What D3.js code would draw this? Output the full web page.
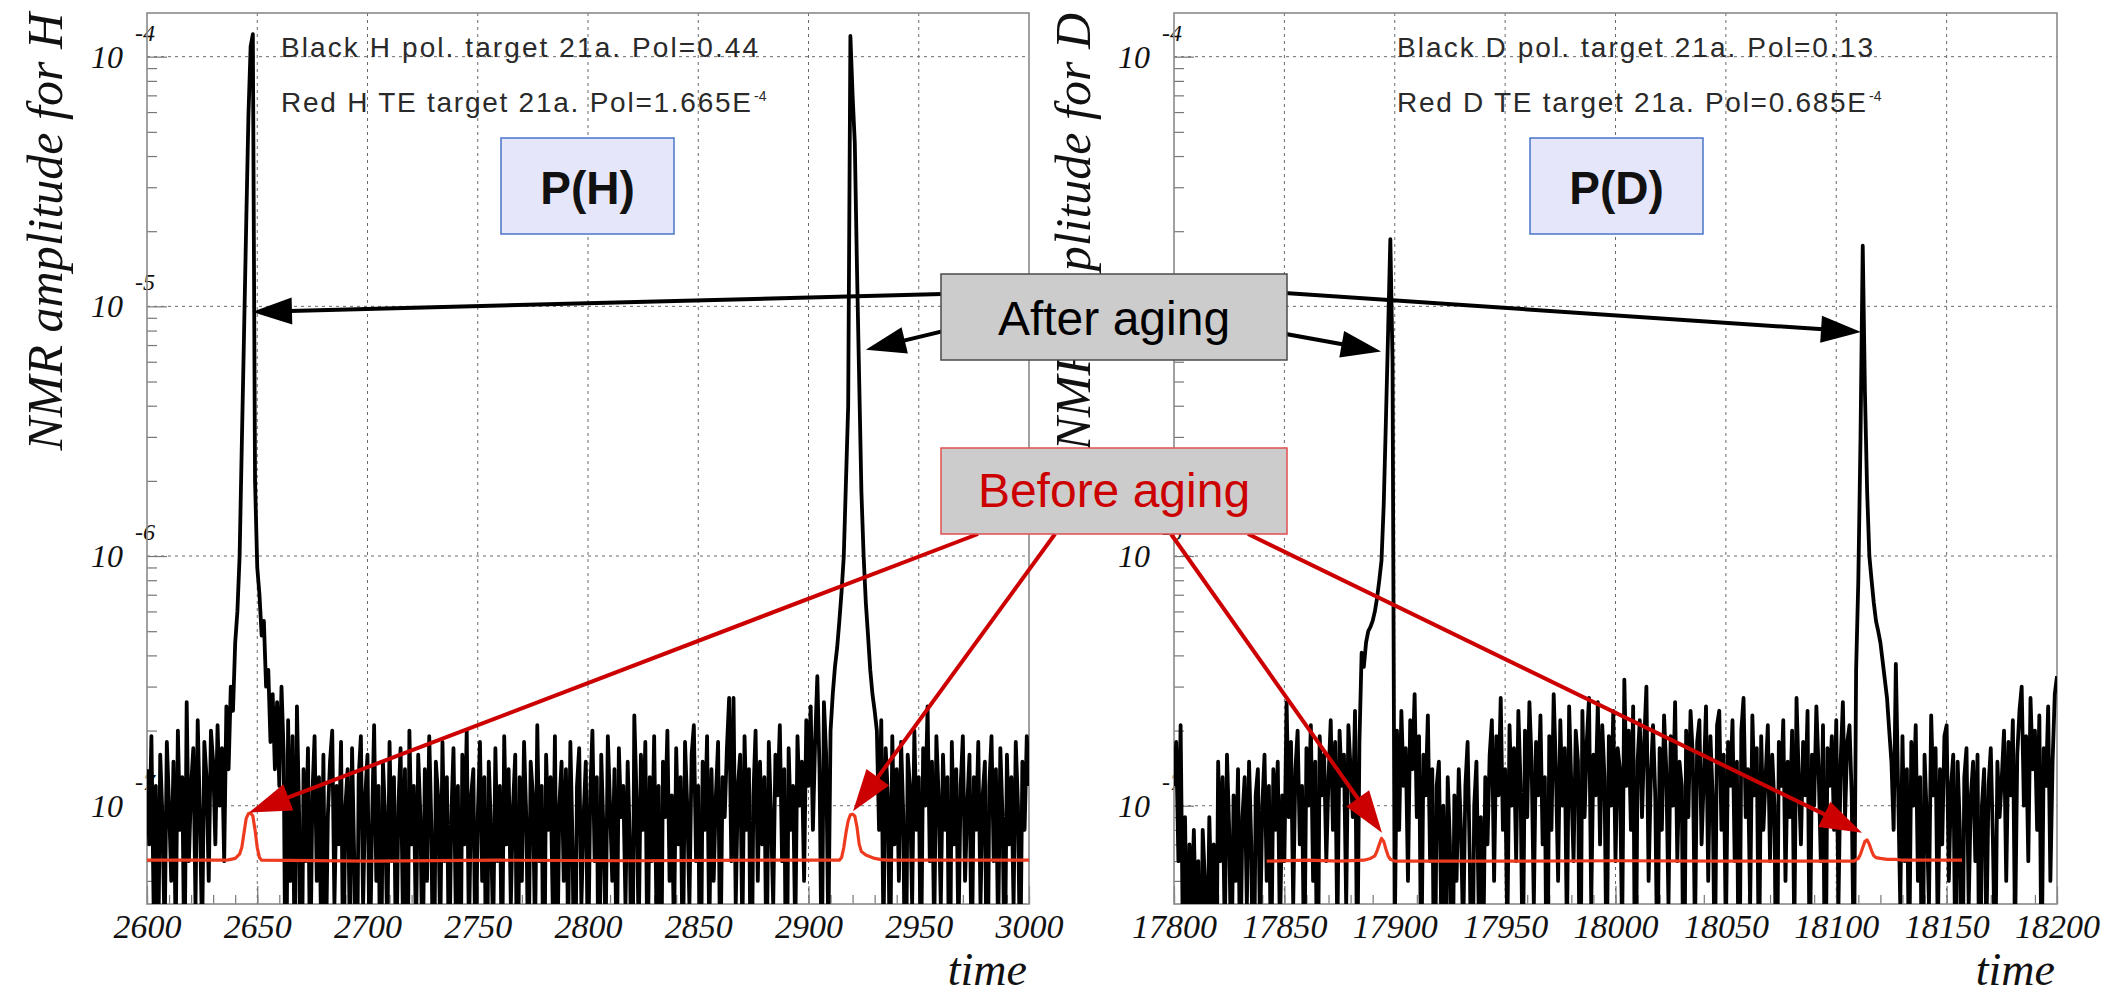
<!DOCTYPE html>
<html>
<head>
<meta charset="utf-8">
<script src="https://cdn.jsdelivr.net/npm/d3@7"></script>
<style>
  body { margin: 0; background: #fff; }
  svg { display: block; }
</style>
</head>
<body>
<svg id="chart" width="2106" height="997"></svg>
<script>
// NMR amplitudes are stored in units of 1e-8; one sample per time unit.
const AMP_UNIT = 1e-8;
const SAMPLE_STEP = 1;

// ---- Hydrogen (P(H)) panel ----
const hStart = 2600;
const hBlack = [
  14, 7, 19, 4, 12, 2, 16, 9, 3, 18,          // 2600
  10, 5, 15, 3, 20, 8, 13, 2, 26, 6,          // 2610
  12, 17, 4, 22, 9, 3, 18, 13, 5, 20,         // 2620
  15, 7, 21, 10, 17, 6, 25, 14, 30, 24,       // 2630
  45, 60, 100, 280, 770, 2150, 5800, 11000, 12300, 200, // 2640
  90, 70, 48, 55, 30, 35, 18, 28, 14, 26,     // 2650
  12, 30, 16, 1, 22, 5, 19, 2, 25, 9,         // 2660
  1, 14, 6, 17, 2, 11, 19, 5, 13, 3,          // 2670
  16, 2, 9, 15, 20, 4, 12, 7, 18, 2,          // 2680
  10, 14, 3, 17, 6, 1, 13, 19, 4, 11,         // 2690
  16, 2, 8, 21, 5, 12, 1, 15, 9, 3,           // 2700
  18, 6, 13, 2, 10, 17, 4, 14, 1, 20,         // 2710
  7, 12, 3, 16, 9, 2, 14, 5, 19, 8,           // 2720
  1, 15, 11, 3, 18, 6, 13, 2, 9, 17,          // 2730
  4, 12, 1, 16, 7, 20, 3, 11, 14, 2,          // 2740
  9, 18, 5, 13, 1, 15, 8, 3, 17, 6,           // 2750
  12, 2, 19, 7, 14, 4, 10, 16, 1, 13,         // 2760
  5, 18, 9, 2, 15, 11, 3, 21, 6, 12,          // 2770
  1, 16, 8, 13, 4, 19, 2, 10, 15, 5,          // 2780
  14, 3, 18, 7, 1, 12, 17, 4, 9, 15,          // 2790
  2, 11, 20, 6, 13, 1, 16, 8, 3, 19,          // 2800
  10, 5, 14, 2, 17, 9, 12, 4, 15, 7,          // 2810
  1, 23, 11, 3, 16, 8, 18, 2, 13, 6,          // 2820
  19, 4, 12, 1, 15, 9, 20, 5, 11, 3,          // 2830
  17, 7, 13, 2, 18, 10, 4, 16, 21, 6,         // 2840
  12, 1, 15, 8, 19, 3, 14, 5, 11, 18,         // 2850
  2, 13, 9, 17, 27, 6, 27, 4, 12, 16,         // 2860
  3, 19, 8, 14, 1, 11, 20, 5, 15, 7,          // 2870
  13, 2, 18, 9, 4, 16, 11, 21, 6, 14,         // 2880
  1, 17, 8, 12, 3, 19, 10, 15, 5, 22,         // 2890
  12, 25, 8, 18, 33, 14, 2, 26, 16, 3,        // 2900
  20, 28, 36, 43, 55, 72, 100, 200, 400, 12100, // 2910
  7000, 4500, 1400, 500, 180, 100, 65, 48, 35, 28, // 2920
  24, 20, 8, 22, 3, 17, 11, 2, 19, 7,         // 2930
  14, 5, 18, 9, 1, 16, 12, 4, 20, 8,          // 2940
  13, 2, 17, 10, 25, 6, 15, 3, 19, 11,        // 2950
  4, 16, 8, 13, 1, 18, 7, 14, 3, 12,          // 2960
  19, 5, 10, 16, 2, 13, 8, 18, 4, 11,         // 2970
  15, 1, 12, 19, 6, 14, 3, 17, 9, 2,          // 2980
  16, 7, 13, 4, 18, 10, 2, 15, 8, 19,         // 2990
  12                                          // 3000
];
const hRedTime = [2600, 2636, 2638, 2640, 2642, 2643, 2644, 2645, 2646, 2647, 2648, 2649, 2650, 2651, 2652,
                  2700, 2760, 2820, 2880, 2914, 2915, 2916, 2917, 2918, 2919, 2920, 2921, 2922, 2923, 2924,
                  2926, 2928, 2930, 2933, 2936, 3000];
const hRedAmp  = [6.05, 6.05, 6.1, 6.15, 6.4, 6.8, 7.8, 8.9, 9.3, 9.35, 9.1, 8.0, 6.8, 6.2, 6.05,
                  6.0, 6.05, 6.02, 6.05, 6.05, 6.2, 6.8, 7.8, 8.7, 9.2, 9.25, 9.1, 8.2, 7.0, 6.55,
                  6.35, 6.25, 6.15, 6.08, 6.05, 6.05];
const hTicks = [2600, 2650, 2700, 2750, 2800, 2850, 2900, 2950, 3000];
const hNotes = ["Black H pol. target 21a. Pol=0.44", "Red H TE target 21a. Pol=1.665E"];

// ---- Deuteron (P(D)) panel ----
const dStart = 17800;
const dBlack = [
  12, 18, 6, 21, 3, 9, 2, 7, 4, 8,            // 17800
  3, 6, 1, 8, 5, 2, 9, 4, 7, 1,               // 17810
  15, 6, 13, 3, 16, 8, 2, 11, 5, 14,          // 17820
  2, 9, 13, 4, 15, 7, 1, 11, 14, 3,           // 17830
  10, 16, 5, 12, 2, 14, 8, 15, 3, 11,         // 17840
  6, 26, 9, 18, 4, 14, 20, 7, 12, 2,          // 17850
  17, 10, 21, 5, 15, 1, 19, 11, 16, 6,        // 17860
  13, 22, 8, 18, 3, 20, 12, 16, 4, 21,        // 17870
  14, 9, 24, 2, 18, 41, 36, 45, 50, 52,       // 17880
  55, 60, 68, 80, 96, 160, 350, 800, 1860, 600, // 17890
  3, 20, 8, 24, 12, 17, 5, 22, 14, 28,        // 17900
  9, 19, 2, 16, 11, 23, 6, 14, 1, 12,         // 17910
  15, 4, 10, 2, 13, 7, 1, 11, 5, 14,          // 17920
  8, 3, 12, 18, 6, 1, 10, 15, 4, 9,           // 17930
  2, 13, 7, 16, 22, 5, 19, 11, 27, 8,         // 17940
  14, 3, 21, 10, 17, 6, 24, 12, 2, 20,        // 17950
  9, 26, 15, 4, 18, 11, 23, 7, 13, 1,         // 17960
  19, 8, 28, 14, 5, 22, 10, 17, 3, 25,        // 17970
  12, 6, 20, 15, 1, 24, 9, 18, 27, 4,         // 17980
  16, 11, 26, 7, 21, 13, 2, 19, 10, 24,       // 17990
  6, 17, 14, 3, 32, 12, 20, 8, 25, 1,         // 18000
  15, 22, 9, 18, 30, 5, 13, 21, 11, 2,        // 18010
  17, 8, 23, 14, 4, 19, 10, 26, 6, 15,        // 18020
  12, 1, 20, 9, 24, 16, 3, 18, 22, 7,         // 18030
  13, 25, 5, 19, 11, 2, 21, 24, 8, 16,        // 18040
  3, 18, 12, 22, 6, 15, 1, 20, 27, 9,         // 18050
  14, 4, 23, 11, 17, 2, 19, 8, 13, 21,        // 18060
  6, 16, 10, 1, 18, 12, 22, 5, 15, 9,         // 18070
  20, 3, 27, 13, 7, 18, 11, 24, 2, 16,        // 18080
  10, 25, 14, 6, 21, 1, 17, 12, 19, 8,        // 18090
  22, 4, 15, 26, 9, 18, 21, 11, 2, 35,        // 18100
  80, 300, 1750, 450, 180, 100, 80, 65, 55, 50, // 18110
  45, 38, 32, 27, 20, 15, 8, 37, 12, 4,       // 18120
  19, 6, 14, 2, 18, 10, 21, 5, 13, 1,         // 18130
  16, 9, 4, 23, 11, 17, 3, 14, 7, 19,         // 18140
  21, 5, 12, 16, 2, 15, 8, 1, 13, 17,         // 18150
  4, 11, 15, 6, 16, 1, 10, 14, 3, 12,         // 18160
  17, 7, 2, 15, 9, 13, 20, 5, 18, 11,         // 18170
  22, 3, 16, 24, 30, 10, 19, 6, 27, 14,       // 18180
  20, 8, 23, 2, 17, 12, 25, 5, 15, 28,        // 18190
  33                                          // 18200
];
const dRedTime = [17842, 17860, 17875, 17886, 17889, 17891, 17892, 17893, 17894, 17895, 17896, 17897, 17898, 17900,
                  17950, 18000, 18050, 18108, 18110, 18111, 18112, 18113, 18114, 18115, 18116, 18117, 18118,
                  18120, 18123, 18127, 18130, 18157];
const dRedAmp  = [6.0, 6.05, 6.0, 6.05, 6.15, 6.3, 6.6, 7.0, 7.4, 7.2, 6.7, 6.3, 6.1, 6.0,
                  6.0, 6.02, 6.0, 6.0, 6.15, 6.4, 6.8, 7.2, 7.3, 7.0, 6.6, 6.3, 6.2,
                  6.15, 6.1, 6.1, 6.05, 6.05];
const dTicks = [17800, 17850, 17900, 17950, 18000, 18050, 18100, 18150, 18200];
const dNotes = ["Black D pol. target 21a. Pol=0.13", "Red D TE target 21a. Pol=0.685E"];

const yDecades = [-7, -6, -5, -4];
const noteExponent = "-4";

// ---------------------------------------------------------------
const svg = d3.select("#chart");
const FRAME_TOP = 13, FRAME_BOTTOM = 904;
const yScale = d3.scaleLog().domain([4.04e-8, 1.496e-4]).range([FRAME_BOTTOM, FRAME_TOP]);

const SERIF = "'Liberation Serif', 'Times New Roman', serif";
const SANS = "'Liberation Sans', Arial, sans-serif";

const panels = [
  { id: "H", x0: 147, x1: 1029, start: hStart, black: hBlack, redT: hRedTime, redA: hRedAmp,
    ticks: hTicks, title: "NMR amplitude for H", titleX: 62,
    notes: hNotes, noteX: 281, noteLen: [477, 470], box: "P(H)", boxX: 501 },
  { id: "D", x0: 1174, x1: 2057, start: dStart, black: dBlack, redT: dRedTime, redA: dRedAmp,
    ticks: dTicks, title: "NMR amplitude for D", titleX: 1090,
    notes: dNotes, noteX: 1397, noteLen: [476, 469], box: "P(D)", boxX: 1530 }
];

const defs = svg.append("defs");
const layerBase = svg.append("g");
const layerData = svg.append("g");
const layerNotes = svg.append("g");

panels.forEach(p => {
  const tMin = p.ticks[0], tMax = p.ticks[p.ticks.length - 1];
  p.x = d3.scaleLinear().domain([tMin, tMax]).range([p.x0, p.x1]);

  defs.append("clipPath").attr("id", "clip" + p.id)
    .append("rect").attr("x", p.x0).attr("y", FRAME_TOP)
    .attr("width", p.x1 - p.x0).attr("height", FRAME_BOTTOM - FRAME_TOP);

  const g = layerBase.append("g");

  // dashed grid
  const grid = g.append("g").attr("stroke", "#6a6a6a").attr("stroke-width", 1)
    .attr("stroke-dasharray", "3,4");
  grid.selectAll(".gx").data(p.ticks.slice(1, -1)).join("line")
    .attr("x1", d => p.x(d)).attr("x2", d => p.x(d))
    .attr("y1", FRAME_TOP).attr("y2", FRAME_BOTTOM);
  grid.selectAll(".gy").data(yDecades).join("line")
    .attr("x1", p.x0).attr("x2", p.x1)
    .attr("y1", d => yScale(Math.pow(10, d))).attr("y2", d => yScale(Math.pow(10, d)));

  // y axis: minor and major ticks inside the frame
  const minor = [];
  yDecades.concat([-8]).forEach(e => {
    for (let k = 2; k <= 9; k++) {
      const v = k * Math.pow(10, e);
      if (v > yScale.domain()[0] && v < yScale.domain()[1]) minor.push(v);
    }
  });
  const styleAxis = sel => {
    sel.select(".domain").remove();
    sel.selectAll("line").attr("stroke", "#777").attr("stroke-width", 1.2);
  };
  g.append("g").attr("transform", `translate(${p.x0},0)`)
    .call(d3.axisRight(yScale).tickValues(minor).tickSize(10).tickFormat(""))
    .call(styleAxis);
  g.append("g").attr("transform", `translate(${p.x0},0)`)
    .call(d3.axisRight(yScale).tickValues(yDecades.map(e => Math.pow(10, e))).tickSize(20).tickFormat(""))
    .call(styleAxis);

  // y tick labels 10^e
  const yl = g.append("g").attr("font-family", SERIF).attr("font-style", "italic").attr("fill", "#111");
  yl.selectAll(".ten").data(yDecades).join("text")
    .attr("x", p.x0 - 24).attr("y", d => yScale(Math.pow(10, d)) + 11)
    .attr("text-anchor", "end").attr("font-size", 32).text("10");
  yl.selectAll(".exp").data(yDecades).join("text")
    .attr("x", p.x0 - 12).attr("y", d => yScale(Math.pow(10, d)) - 16)
    .attr("font-size", 24).text(d => String(d));

  // x axis: minor ticks every 10, major ticks with labels every 50
  const minorX = d3.range(tMin, tMax + 1, 10);
  g.append("g").attr("transform", `translate(0,${FRAME_BOTTOM})`)
    .call(d3.axisBottom(p.x).tickValues(minorX).tickSize(-9).tickFormat(""))
    .call(styleAxis);
  const xa = g.append("g").attr("transform", `translate(0,${FRAME_BOTTOM})`)
    .call(d3.axisBottom(p.x).tickValues(p.ticks).tickSize(-18).tickPadding(10).tickFormat(d3.format("d")))
    .call(styleAxis);
  xa.selectAll("text").attr("font-family", SERIF).attr("font-style", "italic")
    .attr("font-size", 34).attr("fill", "#111");

  // frame
  g.append("rect").attr("x", p.x0).attr("y", FRAME_TOP)
    .attr("width", p.x1 - p.x0).attr("height", FRAME_BOTTOM - FRAME_TOP)
    .attr("fill", "none").attr("stroke", "#8a8a8a").attr("stroke-width", 1.6);

  // axis titles
  g.append("text").attr("x", p.x1 - 2).attr("y", 985).attr("text-anchor", "end")
    .attr("font-family", SERIF).attr("font-style", "italic").attr("font-size", 46)
    .attr("fill", "#111").text("time");
  g.append("text").attr("transform", `translate(${p.titleX},${FRAME_TOP}) rotate(-90)`)
    .attr("text-anchor", "end").attr("font-family", SERIF).attr("font-style", "italic")
    .attr("font-size", 50).attr("fill", "#111").text(p.title);

  // data: polarized (black) and thermal-equilibrium (red) signals
  const dg = layerData.append("g").attr("clip-path", `url(#clip${p.id})`);
  const blackLine = d3.line()
    .x((d, i) => p.x(p.start + i * SAMPLE_STEP))
    .y(d => yScale(d * AMP_UNIT));
  dg.append("path").datum(p.black).attr("d", blackLine)
    .attr("fill", "none").attr("stroke", "#000").attr("stroke-width", 3.8)
    .attr("stroke-linejoin", "round");
  const redLine = d3.line()
    .x(i => p.x(p.redT[i]))
    .y(i => yScale(p.redA[i] * AMP_UNIT));
  dg.append("path").datum(d3.range(p.redT.length)).attr("d", redLine)
    .attr("fill", "none").attr("stroke", "#ee3b1f").attr("stroke-width", 3.2)
    .attr("stroke-linejoin", "round");

  // annotation lines
  const ng = layerNotes.append("g").attr("font-family", SANS).attr("fill", "#2a2a2a");
  ng.append("text").attr("x", p.noteX).attr("y", 57).attr("font-size", 28)
    .attr("textLength", p.noteLen[0]).attr("lengthAdjust", "spacing").text(p.notes[0]);
  ng.append("text").attr("x", p.noteX).attr("y", 112).attr("font-size", 28)
    .attr("textLength", p.noteLen[1]).attr("lengthAdjust", "spacing").text(p.notes[1]);
  ng.append("text").attr("x", p.noteX + p.noteLen[1] + 3).attr("y", 101).attr("font-size", 14)
    .text(noteExponent);

  // label box P(H) / P(D)
  const bw = 173, bh = 96, by = 138;
  ng.append("rect").attr("x", p.boxX).attr("y", by).attr("width", bw).attr("height", bh)
    .attr("fill", "#e6e6fa").attr("stroke", "#4a74c9").attr("stroke-width", 1.5);
  ng.append("text").attr("x", p.boxX + bw / 2).attr("y", by + 66).attr("text-anchor", "middle")
    .attr("font-family", SANS).attr("font-weight", "bold").attr("font-size", 46)
    .attr("fill", "#111").text(p.box);
});

// ---------------------------------------------------------------
// Arrows pointing from the labels to the peaks
const pH = panels[0], pD = panels[1];
const anchor = (p, t, amp) => [p.x(t), yScale(amp)];

function arrow(g, from, to, color, headLen, headHalf, width) {
  const dx = to[0] - from[0], dy = to[1] - from[1];
  const len = Math.hypot(dx, dy);
  const ux = dx / len, uy = dy / len;
  const bx = to[0] - ux * headLen, by = to[1] - uy * headLen;
  g.append("line").attr("x1", from[0]).attr("y1", from[1]).attr("x2", bx + ux * 2).attr("y2", by + uy * 2)
    .attr("stroke", color).attr("stroke-width", width);
  g.append("polygon")
    .attr("points", [to, [bx - uy * headHalf, by + ux * headHalf], [bx + uy * headHalf, by - ux * headHalf]]
      .map(pt => pt.join(",")).join(" "))
    .attr("fill", color);
}

const arrows = svg.append("g");
// after aging -> polarized peaks
arrow(arrows, [1100, 290], anchor(pH, 2647.6, 9.5e-6), "#000", 40, 13.5, 4);
arrow(arrows, [1010, 315], anchor(pH, 2926.0, 6.7e-6), "#000", 40, 13.5, 4);
arrow(arrows, [1220, 322], anchor(pD, 17893.8, 6.6e-6), "#000", 40, 13.5, 4);
arrow(arrows, [1120, 282], anchor(pD, 18111.2, 7.9e-6), "#000", 40, 13.5, 4);
// before aging -> thermal-equilibrium peaks
arrow(arrows, [978, 534], anchor(pH, 2646.3, 9.4e-8), "#cc0000", 42, 14, 4);
arrow(arrows, [1055, 534], anchor(pH, 2920.2, 9.5e-8), "#cc0000", 42, 14, 4);
arrow(arrows, [1171, 534], anchor(pD, 17894.2, 7.8e-8), "#cc0000", 42, 14, 4);
arrow(arrows, [1248, 534], anchor(pD, 18111.7, 7.8e-8), "#cc0000", 42, 14, 4);

// label boxes
const labels = svg.append("g").attr("font-family", SANS);
labels.append("rect").attr("x", 941).attr("y", 274).attr("width", 346).attr("height", 86)
  .attr("fill", "#cccccc").attr("stroke", "#4a4a4a").attr("stroke-width", 1.5);
labels.append("text").attr("x", 1114).attr("y", 335).attr("text-anchor", "middle")
  .attr("font-size", 48).attr("fill", "#000").text("After aging");
labels.append("rect").attr("x", 941).attr("y", 448).attr("width", 346).attr("height", 86)
  .attr("fill", "#cccccc").attr("stroke", "#e05050").attr("stroke-width", 1.5);
labels.append("text").attr("x", 1114).attr("y", 507).attr("text-anchor", "middle")
  .attr("font-size", 48).attr("fill", "#cc0000").text("Before aging");
</script>
</body>
</html>
